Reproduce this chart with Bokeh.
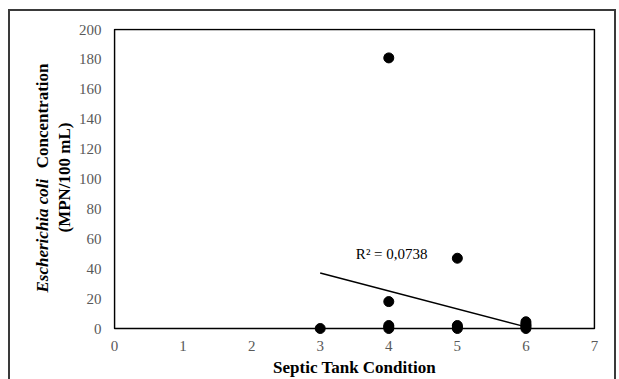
import math
from bokeh.plotting import figure
from bokeh.models import FixedTicker, Label, BoxAnnotation, Range1d, Row
from bokeh.embed import file_html
from bokeh.resources import INLINE

# ---- data ----
condition = [3, 4, 4, 4, 4, 4, 5, 5, 5, 5, 6, 6, 6, 6, 6]
ecoli = [0, 181, 18, 2, 1, 0, 47, 2, 1, 0, 4.5, 3, 2, 1, 0]
trend_x = [3, 6]
trend_slope = -12.0
trend_intercept = 73.1
r2_text = "R\u00b2 = 0,0738"
r2_pos = (3.52, 49.5)
x_ticks = [0, 1, 2, 3, 4, 5, 6, 7]
y_ticks = [0, 20, 40, 60, 80, 100, 120, 140, 160, 180, 200]
x_title = "Septic Tank Condition"
y_title_italic = "Escherichia coli"
y_title_rest = "Concentration"
y_title_line2 = "(MPN/100 mL)"

FONT = "Liberation Serif"

# ---- main chart ----
xpx = 1.0 / (480 / 7.0)     # one pixel in x data units
ypx = 1.0 / (299 / 200.0)   # one pixel in y data units
p = figure(
    frame_width=482, frame_height=308,
    min_border_left=35, min_border_top=17, min_border_right=19, min_border_bottom=38,
    x_range=Range1d(-xpx, 7 + xpx), y_range=Range1d(-8 * ypx, 200 + ypx),
    output_backend="svg", toolbar_location=None,
)
p.background_fill_color = "white"
p.border_fill_color = "white"
p.outline_line_color = None
p.grid.visible = False

for ax in (p.xaxis[0], p.yaxis[0]):
    ax.axis_line_color = None
    ax.major_tick_line_color = None
    ax.minor_tick_line_color = None
    ax.major_tick_out = 0
    ax.major_tick_in = 0
    ax.minor_tick_out = 0
    ax.minor_tick_in = 0
    ax.major_label_text_font = FONT
    ax.major_label_text_font_size = "15px"
    ax.major_label_text_color = "#595959"
p.xaxis[0].ticker = FixedTicker(ticks=x_ticks)
p.yaxis[0].ticker = FixedTicker(ticks=y_ticks)
p.xaxis[0].major_label_standoff = 4
p.yaxis[0].major_label_standoff = 12
p.xaxis[0].axis_label = x_title
p.xaxis[0].axis_label_text_font = FONT
p.xaxis[0].axis_label_text_font_size = "17px"
p.xaxis[0].axis_label_text_font_style = "bold"
p.xaxis[0].axis_label_text_color = "black"
p.xaxis[0].axis_label_standoff = 4

# plot-area border
p.add_layout(BoxAnnotation(left=0, right=7, bottom=0, top=200, level="underlay",
                           fill_alpha=0, line_color="black", line_width=1.6, line_alpha=1))

# trend line
trend_y = [trend_slope * x + trend_intercept for x in trend_x]
p.line(trend_x, trend_y, line_color="black", line_width=1.5)

# points
p.scatter(condition, ecoli, size=10, fill_color="black", line_color="black")

p.add_layout(Label(x=r2_pos[0], y=r2_pos[1], text=r2_text, text_font=FONT,
                   text_font_size="15px", text_color="black",
                   text_align="left", text_baseline="middle"))

# ---- left strip holding the two-line y title (its frame is aligned with p's) ----
t = figure(frame_width=65, frame_height=308, min_border=0,
           x_range=Range1d(0, 1), y_range=Range1d(0, 1),
           x_axis_location=None, y_axis_location=None,
           output_backend="svg", toolbar_location=None)
t.outline_line_color = None
t.grid.visible = False
t.background_fill_color = "white"
t.border_fill_color = "white"
t.add_layout(Label(x=32, y=44, x_units="screen", y_units="screen", text=y_title_italic,
                   angle=math.pi / 2, text_font=FONT, text_font_size="17px",
                   text_font_style="bold italic", text_align="left",
                   text_baseline="middle", text_color="black"))
t.add_layout(Label(x=32, y=273, x_units="screen", y_units="screen", text=y_title_rest,
                   angle=math.pi / 2, text_font=FONT, text_font_size="17px",
                   text_font_style="bold", text_align="right",
                   text_baseline="middle", text_color="black"))
t.add_layout(Label(x=54, y=159, x_units="screen", y_units="screen", text=y_title_line2,
                   angle=math.pi / 2, text_font=FONT, text_font_size="17px",
                   text_font_style="bold", text_align="center",
                   text_baseline="middle", text_color="black"))

layout = Row(children=[t, p], spacing=0, margin=(9, 0, 0, 8),
             styles={"border-left": "2px solid #3a3a3a",
                     "border-top": "2px solid #3a3a3a",
                     "border-right": "2px solid #3a3a3a"})

open("out.html", "w").write(file_html(layout, INLINE))
